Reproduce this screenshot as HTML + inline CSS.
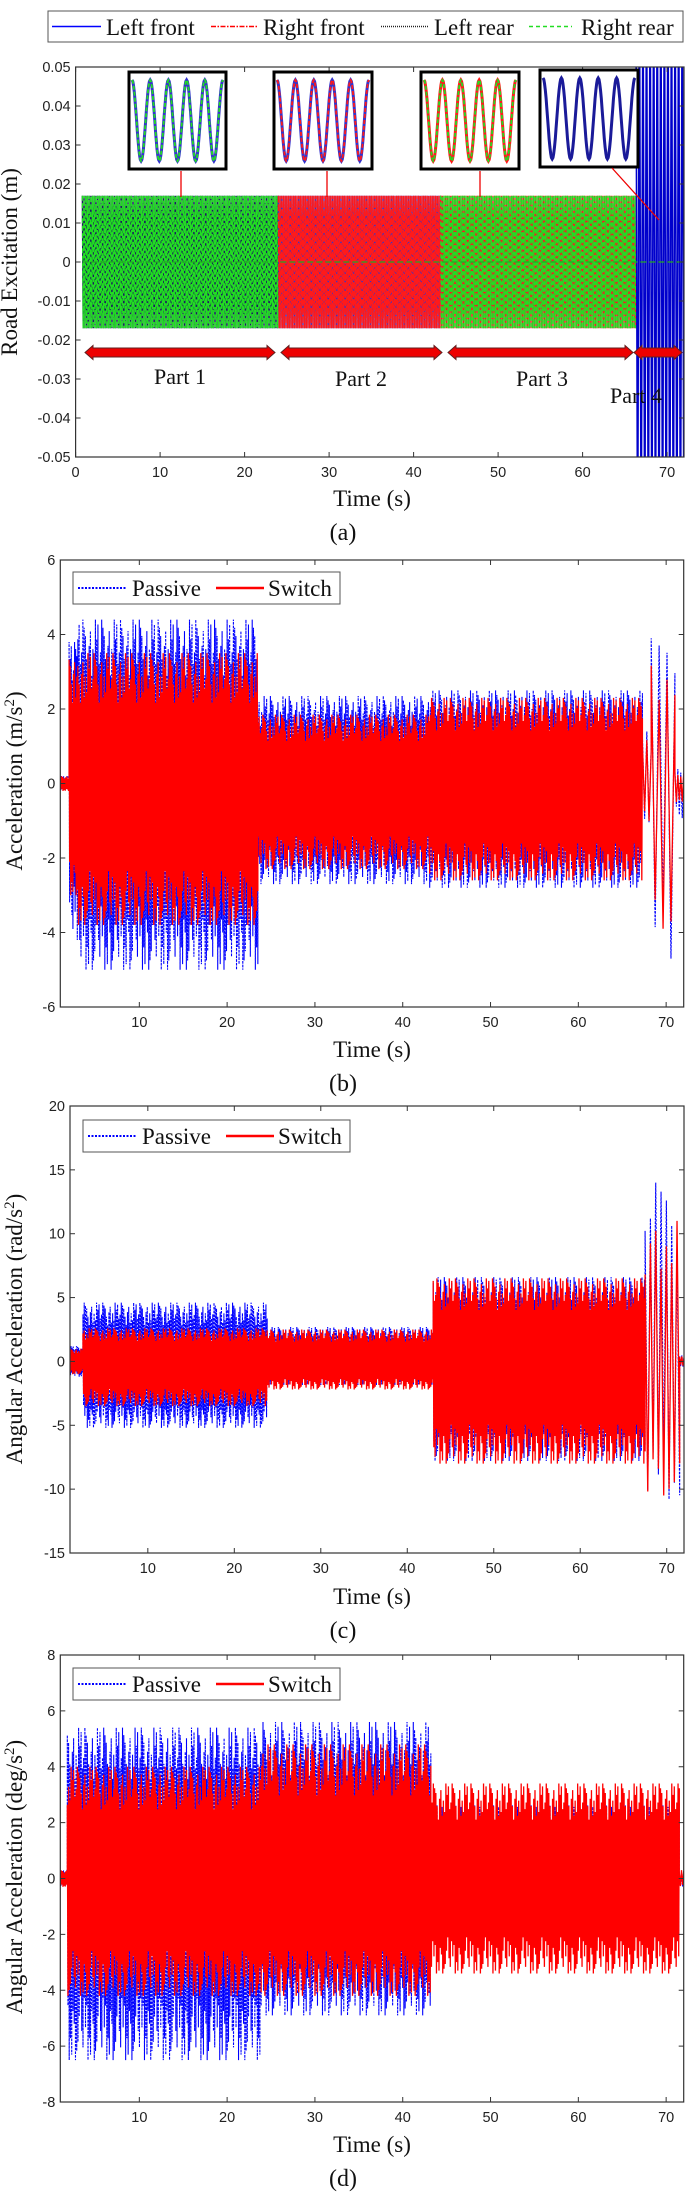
<!DOCTYPE html>
<html><head><meta charset="utf-8"><style>
html,body{margin:0;padding:0;background:#fff}
svg{display:block}
.tk{font-family:"Liberation Sans",Arial,sans-serif;font-size:14.5px;fill:#222}
.ser{font-family:"Liberation Serif","Times New Roman",serif;fill:#111}
</style></head><body>
<svg id="fig" width="685" height="2193" viewBox="0 0 685 2193" xmlns="http://www.w3.org/2000/svg">
<defs>
<clipPath id="clipA"><rect x="75.6" y="67" width="608.4" height="390"/></clipPath>
<clipPath id="clipB"><rect x="60.3" y="560" width="623.4" height="447"/></clipPath>
<clipPath id="clipC"><rect x="70" y="1106" width="614" height="447"/></clipPath>
<clipPath id="clipD"><rect x="60.3" y="1655" width="623.4" height="447"/></clipPath>
</defs>
</svg>
<script>
// ---------- data ----------
// Panel (a): road excitation segments
const aSegStart = [0.8, 24, 43.2, 66.3];
const aSegEnd   = [24, 43.2, 66.3, 72];
const aSegAmp   = [0.017, 0.017, 0.017, 0.08];
const aSegFreq  = [5, 5, 5, 2.4];
// Panel (b): body acceleration envelopes (m/s^2)
const bSegStart = [1, 2, 3, 23.5, 43, 67.3, 68.3, 71];
const bSegEnd   = [2, 3, 23.5, 43, 67.3, 68.3, 71, 72];
const bSegFreq  = [8, 8, 7, 7, 7, 2, 1.2, 3];
const bPassiveHi = [0.2, 3.8, 4.4, 2.35, 2.5, 1.5, 3.9, 0.4];
const bPassiveLo = [-0.2, -4.2, -5.0, -2.7, -2.8, -1.3, -4.7, -1.0];
const bSwitchHi  = [0.2, 3.5, 3.5, 1.85, 2.3, 1.2, 3.4, 0.3];
const bSwitchLo  = [-0.2, -3.0, -3.8, -2.3, -2.6, -1.2, -3.9, -0.5];
// Panel (c): angular acceleration (rad/s^2)
const cSegStart = [1, 2.5, 23.8, 43, 67.5, 71.5];
const cSegEnd   = [2.5, 23.8, 43, 67.5, 71.5, 72];
const cSegFreq  = [8, 7, 7, 7, 1.6, 4];
const cPassiveHi = [1.2, 4.6, 2.7, 6.6, 14, 0.5];
const cPassiveLo = [-1.2, -5.2, -1.9, -7.8, -10.8, -0.5];
const cSwitchHi  = [1.0, 2.6, 2.5, 6.5, 11, 0.4];
const cSwitchLo  = [-1.0, -3.5, -2.2, -8.0, -10.5, -0.4];
// Panel (d): angular acceleration (deg/s^2)
const dSegStart = [1, 1.8, 23.8, 43.2, 71.5];
const dSegEnd   = [1.8, 23.8, 43.2, 71.5, 72];
const dSegFreq  = [8, 7, 7, 7, 4];
const dPassiveHi = [0.3, 5.4, 5.6, 2.7, 0.3];
const dPassiveLo = [-0.3, -6.5, -4.9, -2.3, -0.3];
const dSwitchHi  = [0.3, 4.0, 4.8, 3.4, 0.3];
const dSwitchLo  = [-0.3, -4.2, -4.2, -3.4, -0.3];
// per-peak relative variation read from the irregular peak heights
const peakVar = [1, 0.82, 0.95, 0.7, 0.9, 1, 0.76, 0.88, 0.62, 0.97, 0.84, 0.73, 0.93, 0.8, 0.66];
// tick labels
const aYTicks = ["-0.05","-0.04","-0.03","-0.02","-0.01","0","0.01","0.02","0.03","0.04","0.05"];
const aXTicks = [0,10,20,30,40,50,60,70];
const xTicks = [10,20,30,40,50,60,70];
const bYTicks = [-6,-4,-2,0,2,4,6];
const cYTicks = [-15,-10,-5,0,5,10,15,20];
const dYTicks = [-8,-6,-4,-2,0,2,4,6,8];

const NS = "http://www.w3.org/2000/svg";
const svg = document.getElementById('fig');
function el(tag, attrs, parent, text){
  const e = document.createElementNS(NS, tag);
  for (const k in attrs) e.setAttribute(k, attrs[k]);
  if (text !== undefined) e.textContent = text;
  (parent || svg).appendChild(e);
  return e;
}
function makeAxes(L,R,T,B,xmin,xmax,ymin,ymax){
  return { x: v => L + (v - xmin) / (xmax - xmin) * (R - L),
           y: v => B - (v - ymin) / (ymax - ymin) * (B - T), L, R, T, B };
}
function zig(ax, starts, ends, freqs, hi, lo, vary, off){
  let d = "";
  let c = off || 0;
  for (let i = 0; i < starts.length; i++){
    const n = Math.max(2, Math.round((ends[i] - starts[i]) * freqs[i] * 2));
    for (let k = 0; k <= n; k++){
      const t = starts[i] + k * (ends[i] - starts[i]) / n;
      let v = k % 2 ? lo[i] : hi[i];
      if (vary) { v *= peakVar[c % peakVar.length]; c += 1; }
      d += (d ? "L" : "M") + ax.x(t).toFixed(2) + " " + ax.y(v).toFixed(2);
    }
  }
  return d;
}
function frame(ax, g, xt, xlabels, yt, ylabels){
  el('rect', {x: ax.L, y: ax.T, width: ax.R - ax.L, height: ax.B - ax.T, fill: 'none', stroke: '#333', 'stroke-width': 1.2}, g);
  xt.forEach((v, i) => {
    const x = ax.x(v);
    el('line', {x1: x, x2: x, y1: ax.B, y2: ax.B - 5, stroke: '#333'}, g);
    el('line', {x1: x, x2: x, y1: ax.T, y2: ax.T + 5, stroke: '#333'}, g);
    const t = el('text', {x: x, y: ax.B + 20, 'text-anchor': 'middle', class: 'tk'}, g, xlabels[i]);
    
    
  });
  yt.forEach((v, i) => {
    const y = ax.y(v);
    el('line', {x1: ax.L, x2: ax.L + 5, y1: y, y2: y, stroke: '#333'}, g);
    el('line', {x1: ax.R, x2: ax.R - 5, y1: y, y2: y, stroke: '#333'}, g);
    const t = el('text', {x: ax.L - 5, y: y + 5, 'text-anchor': 'end', class: 'tk'}, g, ylabels[i]);
    
    
  });
}
function textS(x, y, size, str, g, name, rot){
  const attrs = {x: x, y: y, 'text-anchor': 'middle', class: 'ser', 'font-size': size};
  if (rot) attrs.transform = 'rotate(-90 ' + x + ' ' + y + ')';
  const t = el('text', attrs, g);
  t.innerHTML = str;
  
  
  return t;
}
function legend2(x, y, w, h, g){
  const lg = el('g', {}, g);
  
  
  el('rect', {x: x, y: y, width: w, height: h, fill: '#fff', stroke: '#555', 'stroke-width': 1}, lg);
  const my = y + h / 2;
  el('line', {x1: x + 5, x2: x + 53, y1: my, y2: my, stroke: '#0000ff', 'stroke-width': 2, 'stroke-dasharray': '2,1.5'}, lg);
  const t1 = el('text', {x: x + 59, y: my + 8, class: 'ser', 'font-size': 23}, lg, 'Passive');
  
  
  el('line', {x1: x + 143, x2: x + 191, y1: my, y2: my, stroke: '#ff0000', 'stroke-width': 2.5}, lg);
  const t2 = el('text', {x: x + 195, y: my + 8, class: 'ser', 'font-size': 23}, lg, 'Switch');
  
  
}
function accPanel(name, ax, clip, st, en, fr, pHi, pLo, sHi, sLo, yt, ylab, ytitle, ytx, yty, lgx, lgy, letter, timeY, letY){
  const g = el('g', {});  
  const cg = el('g', {'clip-path': 'url(#' + clip + ')'}, g);
  const p = el('path', {d: zig(ax, st, en, fr, pHi, pLo, true, 3), fill: 'none', stroke: '#0000ff', 'stroke-width': 1.1, 'stroke-dasharray': '2.5,1.2'}, cg);
   
  const s = el('path', {d: zig(ax, st, en, fr, sHi, sLo, true, 0), fill: 'none', stroke: '#ff0000', 'stroke-width': 1.3}, cg);
   
  frame(ax, g, xTicks, xTicks.map(String), yt, yt.map(String));
  legend2(lgx, lgy, 267, 32, g);
  textS(ytx, yty, 23, ytitle, g, 'y-axis-title', true);
  textS(372, timeY, 23, 'Time (s)', g, 'x-axis-title');
  textS(343, letY, 24, letter, g, 'panel-label');
}

// ---------- Panel (a) ----------
(function(){
  const ax = makeAxes(75.6, 684, 67, 457, 0, 72, -0.05, 0.05);
  const g = el('g', {});  
  const cg = el('g', {'clip-path': 'url(#clipA)'}, g);
  const aNeg = aSegAmp.map(v => -v);
  const one = i => zig(ax, [aSegStart[i]], [aSegEnd[i]], [aSegFreq[i]], [aSegAmp[i]], [aNeg[i]]);
  // part 1
  el('path', {d: one(0), fill: 'none', stroke: '#1a1a60', 'stroke-width': 1.4}, cg);
  el('path', {d: one(0), fill: 'none', stroke: '#22dd22', 'stroke-width': 1.4, 'stroke-dasharray': '5,2.5'}, cg);
  // part 2
  el('path', {d: one(1), fill: 'none', stroke: '#3333cc', 'stroke-width': 1.4}, cg);
  el('path', {d: one(1), fill: 'none', stroke: '#ff1a1a', 'stroke-width': 1.4, 'stroke-dasharray': '7,1.5'}, cg);
  // part 3
  el('path', {d: one(2), fill: 'none', stroke: '#ee2222', 'stroke-width': 1.4}, cg);
  el('path', {d: one(2), fill: 'none', stroke: '#22dd22', 'stroke-width': 1.4, 'stroke-dasharray': '4,2.5'}, cg);
  // part 4
  const p4 = el('path', {d: one(3), fill: 'none', stroke: '#0000cc', 'stroke-width': 1.6}, cg);
   
  el('line', {x1: ax.x(0.8), x2: ax.x(72), y1: ax.y(0), y2: ax.y(0), stroke: '#22aa22', 'stroke-width': 1.2, 'stroke-dasharray': '6,3'}, cg);
  frame(ax, g, aXTicks, aXTicks.map(String), aYTicks.map(Number), aYTicks);
  // insets
  const insets = [[129,72,97,97,['#22dd22','#3333cc'],181],[274,72,98,97,['#ff1a1a','#3333cc'],327],[421,72,98,97,['#22dd22','#ff1a1a'],480],[540,70,98,97,['#1a1a99','#1a1a99'],null]];
  insets.forEach((b, i) => {
    const ig = el('g', {}, g);
    
    
    el('rect', {x: b[0], y: b[1], width: b[2], height: b[3], fill: '#fff', stroke: '#000', 'stroke-width': 3}, ig);
    let d = '';
    for (let k = 0; k <= 120; k++){
      const px = b[0] + 3 + k / 120 * (b[2] - 6);
      const py = b[1] + b[3] / 2 + Math.cos(k / 120 * Math.PI * 2 * 5) * (b[3] / 2 - 8) * -1;
      d += (k ? 'L' : 'M') + px.toFixed(1) + ' ' + py.toFixed(1);
    }
    el('path', {d: d, fill: 'none', stroke: b[4][1], 'stroke-width': 3}, ig);
    el('path', {d: d, fill: 'none', stroke: b[4][0], 'stroke-width': 1.8, 'stroke-dasharray': i === 3 ? '' : '4,2'}, ig);
    if (b[5]) el('line', {x1: b[5], x2: b[5], y1: b[1] + b[3] + 2, y2: 197, stroke: '#e00', 'stroke-width': 1.3}, g);
  });
  el('line', {x1: 612, y1: 168, x2: 659, y2: 220, stroke: '#e00', 'stroke-width': 1.3}, g);
  // part arrows
  const arrows = [[85,275],[281,442],[448,633],[634,682]];
  arrows.forEach(a => {
    const y = 352.5, h = 4.5, ah = 7, al = 8;
    const pts = [[a[0], y],[a[0]+al, y-ah],[a[0]+al, y-h],[a[1]-al, y-h],[a[1]-al, y-ah],[a[1], y],[a[1]-al, y+ah],[a[1]-al, y+h],[a[0]+al, y+h],[a[0]+al, y+ah]];
    const ar = el('polygon', {points: pts.map(p => p.join(',')).join(' '), fill: '#ee0000', stroke: '#602020', 'stroke-width': 1}, g);
    
    
  });
  textS(180, 384, 22, 'Part 1', g, 'part-1-label');
  textS(361, 386, 22, 'Part 2', g, 'part-2-label');
  textS(542, 386, 22, 'Part 3', g, 'part-3-label');
  textS(636, 403, 22, 'Part 4', g, 'part-4-label');
  // legend
  const lg = el('g', {}, g);
  
  
  el('rect', {x: 48, y: 11, width: 635, height: 31, fill: '#fff', stroke: '#555'}, lg);
  const ents = [[52,101,'#0000ff','', 'Left front', 106],[211,258,'#ff0000','5,1.5,1.5,1.5','Right front',263],[381,429,'#222','1,1','Left rear',434],[529,572,'#22dd22','4,3','Right rear',581]];
  ents.forEach(e => {
    el('line', {x1: e[0], x2: e[1], y1: 26.5, y2: 26.5, stroke: e[2], 'stroke-width': 1.5, 'stroke-dasharray': e[3]}, lg);
    const t = el('text', {x: e[5], y: 35, class: 'ser', 'font-size': 23}, lg, e[4]);
    
    
  });
  textS(17, 262, 23, 'Road Excitation (m)', g, 'y-axis-title', true);
  textS(372, 506, 23, 'Time (s)', g, 'x-axis-title');
  textS(343, 540, 24, '(a)', g, 'panel-label');
})();

// ---------- Panels (b)(c)(d) ----------
accPanel('panel-b', makeAxes(60.3, 683.7, 560, 1007, 1, 72, -6, 6), 'clipB', bSegStart, bSegEnd, bSegFreq, bPassiveHi, bPassiveLo, bSwitchHi, bSwitchLo, bYTicks, null,
  'Acceleration (m/s<tspan dy="-8" font-size="15">2</tspan><tspan dy="8">)</tspan>', 22, 781, 73, 572, '(b)', 1057, 1091);
accPanel('panel-c', makeAxes(70, 684, 1106, 1553, 1, 72, -15, 20), 'clipC', cSegStart, cSegEnd, cSegFreq, cPassiveHi, cPassiveLo, cSwitchHi, cSwitchLo, cYTicks, null,
  'Angular Acceleration (rad/s<tspan dy="-8" font-size="15">2</tspan><tspan dy="8">)</tspan>', 22, 1329, 83, 1120, '(c)', 1604, 1638);
accPanel('panel-d', makeAxes(60.3, 683.7, 1655, 2102, 1, 72, -8, 8), 'clipD', dSegStart, dSegEnd, dSegFreq, dPassiveHi, dPassiveLo, dSwitchHi, dSwitchLo, dYTicks, null,
  'Angular Acceleration (deg/s<tspan dy="-8" font-size="15">2</tspan><tspan dy="8">)</tspan>', 22, 1877, 73, 1668, '(d)', 2152, 2186);
</script>
</body></html>
